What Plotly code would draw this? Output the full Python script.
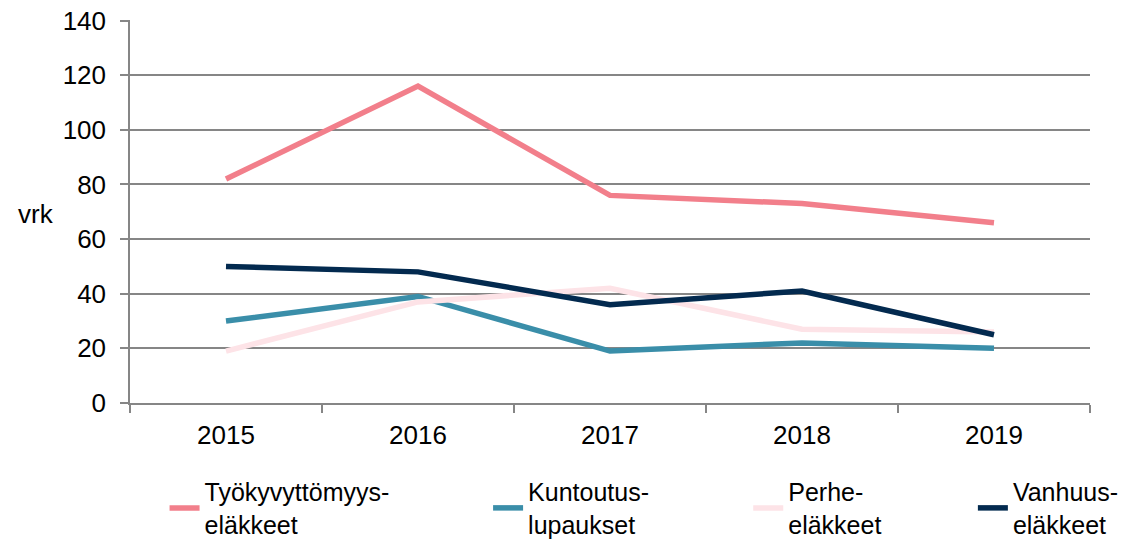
import plotly.graph_objects as go

years = ["2015", "2016", "2017", "2018", "2019"]
tyokyvyttomyys = [82, 116, 76, 73, 66]
kuntoutus = [30, 39, 19, 22, 20]
perhe = [19, 37, 42, 27, 26]
vanhuus = [50, 48, 36, 41, 25]

names = ["Työkyvyttömyys-<br>eläkkeet", "Kuntoutus-<br>lupaukset", "Perhe-<br>eläkkeet", "Vanhuus-<br>eläkkeet"]
colors = ["#F27F8B", "#3A8EA9", "#FDE3E7", "#032A4F"]
series = [tyokyvyttomyys, kuntoutus, perhe, vanhuus]
legend_ids = ["legend", "legend2", "legend3", "legend4"]
legend_x = [0.036, 0.373, 0.644, 0.878]

FAM = "Liberation Sans, Arial, sans-serif"
font = dict(family=FAM, size=26, color="#000000")

fig = go.Figure()
for n, c, s, lid in zip(names, colors, series, legend_ids):
    fig.add_trace(go.Scatter(x=years, y=s, name=n, mode="lines", legend=lid,
                             line=dict(color=c, width=5.5)))

legend_common = dict(orientation="h", y=-0.172, xanchor="left", yanchor="top",
                     font=dict(family=FAM, size=25, color="#000000"),
                     itemwidth=30, bgcolor="rgba(0,0,0,0)")
layout_legends = {}
for lid, lx in zip(legend_ids, legend_x):
    layout_legends[lid] = dict(legend_common, x=lx)

fig.update_layout(
    width=1132, height=543,
    margin=dict(l=130, r=42, t=20, b=140, autoexpand=False),
    paper_bgcolor="white", plot_bgcolor="white",
    font=font,
    showlegend=True,
    xaxis=dict(type="category", range=[-0.5, 4.5], showgrid=False,
               showline=True, linecolor="#868686", linewidth=1.5,
               ticks="outside", tickson="boundaries", ticklen=8, tickcolor="#868686",
               tickwidth=1.5, tickfont=font, ticklabelstandoff=8),
    yaxis=dict(range=[0, 140.2], tickvals=[0, 20, 40, 60, 80, 100, 120, 140],
               showgrid=True, gridcolor="#868686", gridwidth=1.5,
               showline=True, linecolor="#868686", linewidth=1.5,
               ticks="outside", ticklen=8, tickcolor="#868686", tickwidth=1.5,
               tickfont=font, zeroline=False, ticklabelstandoff=9,
               ticklabeloverflow="allow"),
    annotations=[dict(text="vrk", x=-0.098, y=0.493, xref="paper", yref="paper",
                      xanchor="center", yanchor="middle", showarrow=False, font=font)],
    **layout_legends,
)
fig.write_html("out.html", config={"displayModeBar": False},
               post_script="document.body.style.margin='0';document.body.style.overflow='hidden';")
